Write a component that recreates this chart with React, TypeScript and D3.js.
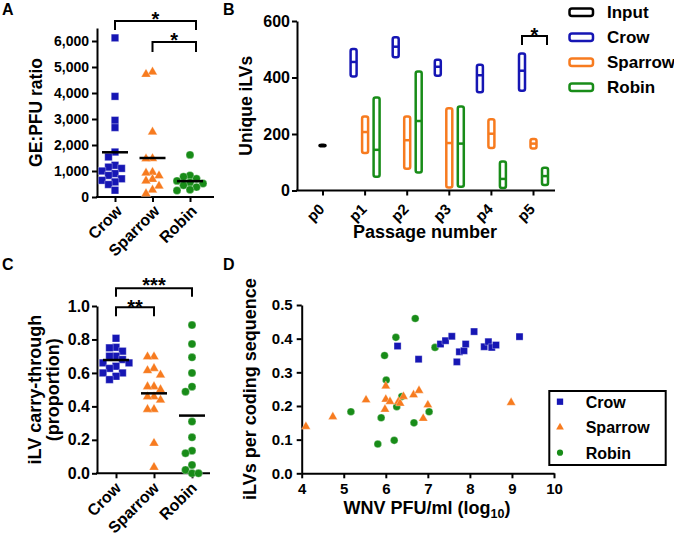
import React, { useEffect, useRef } from 'react'
import * as d3 from 'd3'

const FONT = "'Liberation Sans', Arial, Helvetica, sans-serif"
const birds = ['Crow', 'Sparrow', 'Robin']
const birdColors = ['#1616b4', '#f77b1f', '#188c18']

// A - GE:PFU ratio
const crowGePfu = [6120, 3870, 2950, 2670, 1730, 1540, 1220, 1150, 1100, 1000, 900, 830, 700, 640, 580, 480, 260]
const sparrowGePfu = [4810, 4720, 2500, 1480, 1470, 950, 920, 820, 680, 620, 420, 270, 130]
const robinGePfu = [1620, 830, 780, 700, 620, 560, 520, 450, 380, 280, 250]
const gePfuMean = [1720, 1500, 610]

// B - unique iLVs by passage (min / median / max)
const passages = ['p0', 'p1', 'p2', 'p3', 'p4', 'p5']
const legendB = ['Input', 'Crow', 'Sparrow', 'Robin']
const inputIlv = [158, 162, 166]
const crowIlvMin = [399, 467, 402, 343, 349]
const crowIlvMed = [455, 509, 438, 408, 424]
const crowIlvMax = [505, 547, 467, 450, 489]
const sparrowIlvMin = [128, 73, 6, 146, 144]
const sparrowIlvMed = [207, 178, 168, 201, 166]
const sparrowIlvMax = [266, 266, 296, 257, 187]
const robinIlvMin = [44, 59, 9, 4, 15]
const robinIlvMed = [144, 246, 166, 41, 51]
const robinIlvMax = [334, 426, 302, 107, 85]

// C - iLV carry-through
const crowCarry = [0.807, 0.753, 0.75, 0.73, 0.7, 0.7, 0.68, 0.66, 0.66, 0.64, 0.627, 0.6, 0.6, 0.58, 0.56]
const sparrowCarry = [0.697, 0.697, 0.627, 0.614, 0.588, 0.518, 0.518, 0.5, 0.458, 0.458, 0.438, 0.382, 0.382, 0.18, 0.036]
const robinCarry = [0.886, 0.773, 0.693, 0.6, 0.518, 0.488, 0.309, 0.215, 0.135, 0.12, 0.05, 0.02, 0.0, 0.0]
const carryMean = [0.677, 0.478, 0.345]

// D - iLVs per coding sequence vs titer
const crowPfu = [6.28, 6.78, 7.3, 7.42, 7.57, 7.69, 7.75, 7.86, 7.9, 8.1, 8.34, 8.44, 8.52, 8.62, 9.18]
const crowIlvCds = [0.378, 0.339, 0.384, 0.394, 0.407, 0.331, 0.361, 0.364, 0.384, 0.421, 0.376, 0.391, 0.374, 0.381, 0.406]
const sparrowPfu = [4.1, 4.74, 5.53, 6.0, 6.0, 5.98, 6.1, 6.3, 6.34, 6.42, 6.66, 6.79, 6.89, 7.0, 8.98]
const sparrowIlvCds = [0.139, 0.168, 0.218, 0.259, 0.22, 0.19, 0.213, 0.213, 0.208, 0.228, 0.233, 0.246, 0.163, 0.203, 0.21]
const robinPfu = [6.7, 6.24, 5.97, 6.01, 5.17, 5.89, 5.81, 6.2, 6.26, 6.38, 6.67, 7.03, 7.17]
const robinIlvCds = [0.46, 0.404, 0.35, 0.277, 0.183, 0.165, 0.087, 0.098, 0.198, 0.228, 0.15, 0.183, 0.374]

const shapes = [d3.symbolSquare, d3.symbolTriangle, d3.symbolCircle]

// spread points sideways so they don't pile up (column scatter)
function swarm(values: number[], y: (v: number) => number, step: number, gap: number) {
  const out = new Array(values.length).fill(0)
  const placed: { x: number; y: number }[] = []
  const order = d3.range(values.length).sort((a, b) => values[b] - values[a])
  order.forEach((i) => {
    const py = y(values[i])
    for (const k of [0, -1, 1, -2, 2]) {
      const px = k * step
      if (placed.every((p) => Math.abs(p.y - py) >= gap || Math.abs(p.x - px) >= step * 0.95)) {
        out[i] = px
        placed.push({ x: px, y: py })
        break
      }
    }
  })
  return out
}

const App = () => {
  const ref = useRef<SVGSVGElement>(null)

  useEffect(() => {
    const svg = d3.select(ref.current)
    svg.selectAll('*').remove()

    const styleAxis = (g: any, fs: number) => {
      g.attr('font-family', FONT).attr('font-size', fs).attr('font-weight', 'bold')
      g.selectAll('.domain').attr('stroke', '#000').attr('stroke-width', 2)
      g.selectAll('.tick line').attr('stroke', '#000').attr('stroke-width', 2)
      g.selectAll('.tick text').attr('fill', '#000')
    }
    const text = (x: number, y: number, s: string, fs: number, anchor = 'start', rotate = 0) =>
      svg
        .append('text')
        .attr('transform', `translate(${x},${y}) rotate(${rotate})`)
        .attr('text-anchor', anchor)
        .attr('font-family', FONT)
        .attr('font-size', fs)
        .attr('font-weight', 'bold')
        .attr('fill', '#000')
        .text(s)
    const bracket = (x1: number, x2: number, y: number, drop: number, label: string, ty: number) => {
      svg
        .append('path')
        .attr('d', `M${x1},${y + drop}V${y}H${x2}V${y + drop}`)
        .attr('fill', 'none')
        .attr('stroke', '#000')
        .attr('stroke-width', 2)
      text((x1 + x2) / 2, ty, label, 20, 'middle')
    }
    const hline = (x1: number, x2: number, y: number) =>
      svg.append('line').attr('x1', x1).attr('x2', x2).attr('y1', y).attr('y2', y).attr('stroke', '#000').attr('stroke-width', 2)

    // column scatter (panels A and C)
    const dotPlot = (x: any, y: any, series: number[][], means: number[], sizes: number[]) => {
      series.forEach((vals, i) => {
        const off = swarm(vals, y, 6.5, 7)
        svg
          .append('g')
          .selectAll('path')
          .data(vals)
          .enter()
          .append('path')
          .attr('transform', (d, j) => `translate(${x(birds[i]) + off[j]},${y(d)})`)
          .attr('d', d3.symbol().type(shapes[i]).size(sizes[i]))
          .attr('fill', birdColors[i])
          .attr('stroke', '#ffffff')
          .attr('stroke-opacity', 0.5)
          .attr('stroke-width', 0.6)
      })
      means.forEach((m, i) => {
        svg
          .append('line')
          .attr('x1', x(birds[i]) - 13)
          .attr('x2', x(birds[i]) + 13)
          .attr('y1', y(m))
          .attr('y2', y(m))
          .attr('stroke', '#000')
          .attr('stroke-width', 2.5)
      })
    }

    // ---------- A ----------
    const xA = d3.scalePoint().domain(birds).range([115, 190])
    const yA = d3.scaleLinear().domain([0, 6500]).range([197, 28])
    svg
      .append('g')
      .attr('transform', 'translate(97,0)')
      .call(d3.axisLeft(yA).tickValues(d3.range(0, 6001, 1000)).tickFormat(d3.format(',')).tickSize(5).tickSizeOuter(0).tickPadding(3))
      .call(styleAxis, 14)
    hline(96, 214, 197)
    svg
      .append('g')
      .attr('transform', 'translate(0,197)')
      .call(d3.axisBottom(xA).tickSize(5).tickFormat(() => ''))
      .call(styleAxis, 14)
      .call((g: any) => g.select('.domain').remove())
    birds.forEach((b) => text(xA(b)! + 8, 212, b, 16, 'end', -45))
    dotPlot(xA, yA, [crowGePfu, sparrowGePfu, robinGePfu], gePfuMean, [56, 40, 50])
    text(37, yA(3250), 'GE:PFU ratio', 17.5, 'middle', -90).attr('dy', 5)
    text(2, 15, 'A', 16)
    bracket(xA('Crow')!, xA('Robin')! + 6, 21, 9, '*', 26)
    bracket(xA('Sparrow')!, xA('Robin')! + 6, 42, 10, '*', 47)

    // ---------- B ----------
    const xB = d3.scalePoint().domain(passages).range([322.5, 533])
    const yB = d3.scaleLinear().domain([0, 600]).range([190.5, 21])
    const sub = d3.scalePoint().domain(birds).range([-11, 12])
    svg
      .append('g')
      .attr('transform', 'translate(297,0)')
      .call(d3.axisLeft(yB).tickValues([0, 200, 400, 600]).tickSize(5).tickSizeOuter(0).tickPadding(2))
      .call(styleAxis, 16)
    hline(296, 555, 190.5)
    svg
      .append('g')
      .attr('transform', 'translate(0,190.5)')
      .call(d3.axisBottom(xB).tickSize(5).tickFormat(() => ''))
      .call(styleAxis, 15)
      .call((g: any) => g.select('.domain').remove())
    passages.forEach((p) => text(xB(p)! + 3, 210, p, 15, 'end', -45))

    const floatBar = (cx: number, lo: number, med: number, hi: number, color: string, filled: boolean) => {
      const top = yB(hi) + 1.25
      const bot = yB(lo) - 1.25
      svg
        .append('rect')
        .attr('x', cx - 3)
        .attr('width', 6)
        .attr('y', top)
        .attr('height', Math.max(bot - top, 1.5))
        .attr('rx', 2)
        .attr('fill', filled ? color : '#fff')
        .attr('stroke', color)
        .attr('stroke-width', 2.5)
      if (!filled) {
        svg
          .append('line')
          .attr('x1', cx - 3)
          .attr('x2', cx + 3)
          .attr('y1', yB(med))
          .attr('y2', yB(med))
          .attr('stroke', color)
          .attr('stroke-width', 2.5)
      }
    }
    floatBar(xB('p0')!, inputIlv[0], inputIlv[1], inputIlv[2], '#000', true)
    const ilvSets = [
      [crowIlvMin, crowIlvMed, crowIlvMax],
      [sparrowIlvMin, sparrowIlvMed, sparrowIlvMax],
      [robinIlvMin, robinIlvMed, robinIlvMax]
    ]
    passages.slice(1).forEach((p, k) => {
      ilvSets.forEach((s, i) => {
        floatBar(xB(p)! + sub(birds[i])!, s[0][k], s[1][k], s[2][k], birdColors[i], false)
      })
    })
    text(252, yB(300), 'Unique iLVs', 17.5, 'middle', -90)
    text(425, 238, 'Passage number', 18, 'middle')
    text(223, 15, 'B', 16)
    bracket(xB('p5')! + sub('Crow')!, xB('p5')! + sub('Robin')! + 2, 36, 9, '*', 41.5)

    const legColors = ['#000', ...birdColors]
    legendB.forEach((l, i) => {
      const cy = 12.3 + i * 25
      svg
        .append('rect')
        .attr('x', 569.5)
        .attr('y', cy - 3.8)
        .attr('width', 23.5)
        .attr('height', 7.6)
        .attr('rx', 2.5)
        .attr('fill', '#fff')
        .attr('stroke', legColors[i])
        .attr('stroke-width', 2.5)
      text(607, cy + 6, l, 17)
    })

    // ---------- C ----------
    const xC = d3.scalePoint().domain(birds).range([116, 192])
    const yC = d3.scaleLinear().domain([0, 1]).range([473.3, 306])
    svg
      .append('g')
      .attr('transform', 'translate(97,0)')
      .call(d3.axisLeft(yC).ticks(5).tickFormat(d3.format('.1f')).tickSize(5).tickSizeOuter(0).tickPadding(2))
      .call(styleAxis, 16)
    hline(96, 210, 473.3)
    svg
      .append('g')
      .attr('transform', 'translate(0,473.3)')
      .call(d3.axisBottom(xC).tickSize(5).tickFormat(() => ''))
      .call(styleAxis, 15)
      .call((g: any) => g.select('.domain').remove())
    birds.forEach((b) => text(xC(b)! + 6, 489, b, 16, 'end', -45))
    dotPlot(xC, yC, [crowCarry, sparrowCarry, robinCarry], carryMean, [56, 40, 50])
    text(41, yC(0.5), 'iLV carry-through', 18, 'middle', -90)
    text(59, yC(0.5), '(proportion)', 18, 'middle', -90)
    text(2, 270, 'C', 16)
    bracket(xC('Crow')!, xC('Robin')!, 288.3, 8.5, '***', 291.5)
    bracket(xC('Crow')!, xC('Sparrow')!, 307.3, 9, '**', 314)

    // ---------- D ----------
    const xD = d3.scaleLinear().domain([4, 10]).range([301.7, 554])
    const yD = d3.scaleLinear().domain([0, 0.5]).range([473.3, 305])
    svg
      .append('g')
      .attr('transform', 'translate(301.7,0)')
      .call(d3.axisLeft(yD).ticks(5).tickFormat(d3.format('.1f')).tickSize(5).tickSizeOuter(0).tickPadding(4))
      .call(styleAxis, 15)
    svg
      .append('g')
      .attr('transform', 'translate(0,473.3)')
      .call(d3.axisBottom(xD).ticks(6).tickFormat(d3.format('d')).tickSize(5).tickSizeOuter(0).tickPadding(5))
      .call(styleAxis, 15)
    const scatterSets = [
      [robinPfu, robinIlvCds, 2],
      [sparrowPfu, sparrowIlvCds, 1],
      [crowPfu, crowIlvCds, 0]
    ] as [number[], number[], number][]
    const dSizes = [50, 36, 46]
    scatterSets.forEach(([xs, ys, i]) => {
      svg
        .append('g')
        .selectAll('path')
        .data(xs)
        .enter()
        .append('path')
        .attr('transform', (d, j) => `translate(${xD(d)},${yD(ys[j])})`)
        .attr('d', d3.symbol().type(shapes[i]).size(dSizes[i]))
        .attr('fill', birdColors[i])
        .attr('stroke', '#fff')
        .attr('stroke-opacity', 0.5)
        .attr('stroke-width', 0.6)
    })
    text(256, yD(0.25), 'iLVs per coding sequence', 18, 'middle', -90)
    const xt = text(427, 514, 'WNV PFU/ml (log', 18, 'middle')
    xt.append('tspan').attr('font-size', 12.5).attr('dy', 4).text('10')
    xt.append('tspan').attr('dy', -4).text(')')
    text(223, 270, 'D', 16)

    svg
      .append('rect')
      .attr('x', 549.3)
      .attr('y', 391)
      .attr('width', 116.4)
      .attr('height', 74)
      .attr('fill', '#fff')
      .attr('stroke', '#000')
      .attr('stroke-width', 2)
    birds.forEach((b, i) => {
      const cy = 401.7 + i * 25.5
      svg
        .append('path')
        .attr('transform', `translate(560,${cy})`)
        .attr('d', d3.symbol().type(shapes[i]).size([40, 26, 30][i]))
        .attr('fill', birdColors[i])
      text(585.7, cy + 5.8, b, 16)
    })
  }, [])

  return (
    <svg
      ref={ref}
      width={674}
      height={540}
      style={{ position: 'absolute', left: 0, top: 0, background: '#fff' }}
    />
  )
}

export default App
